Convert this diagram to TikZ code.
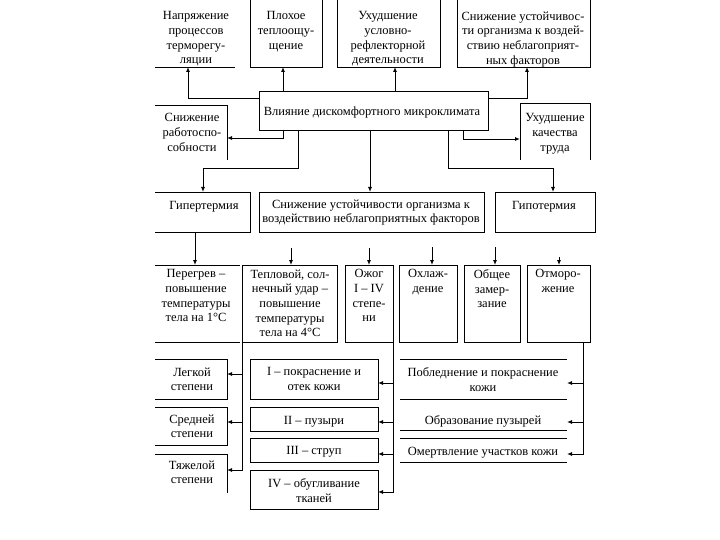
\documentclass[tikz,border=0pt]{standalone}
\usepackage{fontspec}
\setmainfont{Liberation Serif}
\usetikzlibrary{arrows.meta}
\newcommand\mkbox[5]{\node[inner sep=0pt,outer sep=0pt,minimum width={(#4-#2)*1pt},minimum height={(#5-#3)*1pt}] (#1) at ({(#2+#4)/2},{(#3+#5)/2}) {};}
\begin{document}
\begin{tikzpicture}[x=1pt,y=-1pt,
  ln/.style={line width=0.9pt,black},
  arr/.style={ln,-{Latex[length=5pt,width=4pt]}},
  txt/.style={align=center,inner sep=0pt,anchor=north,yshift=-3.5pt,font=\fontsize{12.5}{14.6}\selectfont,execute at begin node=\strut}]
\useasboundingbox[fill=white] (0,0) rectangle (720,540);
% ---- boxes (geometry) ----
\mkbox{A}{155}{0}{235}{67}
\mkbox{B}{250}{0}{322}{67}
\mkbox{C}{337}{0}{440}{67}
\mkbox{D}{457}{0}{590}{67}
\mkbox{M}{259}{91}{488}{130}
\mkbox{L}{155}{105}{227}{160}
\mkbox{R}{520}{103}{590}{160}
\mkbox{G1}{155}{192}{250}{232}
\mkbox{G2}{259}{192}{484}{232}
\mkbox{G3}{495}{192}{595}{232}
\mkbox{P1}{155}{265}{240}{342}
\mkbox{P2}{242}{265}{337}{342}
\mkbox{P3}{345}{265}{393}{342}
\mkbox{P4}{399}{265}{457}{342}
\mkbox{P5}{464}{265}{520}{342}
\mkbox{P6}{527}{265}{590}{342}
\mkbox{S1}{155}{359}{227}{399}
\mkbox{S2}{155}{407}{227}{445}
\mkbox{S3}{155}{454}{227}{493}
\mkbox{T1}{250}{359}{378}{399}
\mkbox{T2}{250}{407}{378}{431}
\mkbox{T3}{250}{438}{378}{462}
\mkbox{T4}{250}{470}{378}{509}
\mkbox{K1}{400}{359}{567}{399}
\mkbox{K2}{400}{407}{567}{430}
\mkbox{K3}{400}{438}{567}{462}
% ---- visible borders ----
\draw[ln] (A.south west) -- (A.south east);
\draw[ln] (B.north west) -- (B.south west) -- (B.south east) -- (B.north east);
\draw[ln] (C.north west) -- (C.south west) -- (C.south east) -- (C.north east);
\draw[ln] (D.north west) -- (D.south west) -- (D.south east) -- (D.north east);
\draw[ln] (M.north west) rectangle (M.south east);
\draw[ln] (L.north west) -- (L.north east) -- (L.south east);
\draw[ln] (R.south west) -- (R.north west) -- (R.north east) -- (R.south east);
\draw[ln] (G1.north west) -- (G1.north east) -- (G1.south east) -- (G1.south west);
\draw[ln] (G2.north west) rectangle (G2.south east);
\draw[ln] (G3.north west) rectangle (G3.south east);
\draw[ln] (P1.north west) -- (P1.north east);
\draw[ln] (P1.south west) -- (P1.south east);
\foreach \n in {P2,P3,P4,P5,P6,T1,T2,T3,T4} \draw[ln] (\n.north west) rectangle (\n.south east);
\draw[ln] (S1.north west) -- (S1.north east) -- (S1.south east) -- (S1.south west);
\draw[ln] (S2.north west) -- (S2.north east) -- (S2.south east) -- (S2.south west);
\draw[ln] (S3.north west) -- (S3.north east) -- (S3.south east);
\draw[ln] (K1.north west) -- (K1.north east);
\draw[ln] (K1.south west) -- (K1.south east);
\draw[ln] (K2.south west) -- (K2.south east);
\draw[ln] (K3.north west) -- (K3.north east);
\draw[ln] (K3.south west) -- (K3.south east);
% ---- texts ----
\node[txt] (tA) at (196,8) {Напряжение\\процессов\\терморегу-\\ляции};
\node[txt] (tB) at (286,8) {Плохое\\теплоощу-\\щение};
\node[txt] (tC) at (388,8) {Ухудшение\\условно-\\рефлекторной\\деятельности};
\node[txt] (tD) at (523,8) {Снижение устойчивос-\\ти организма к воздей-\\ствию неблагоприят-\\ных факторов};
\node[txt] (tM) at (372,102) {Влияние дискомфортного микроклимата};
\node[txt] (tL) at (192,110) {Снижение\\работоспо-\\собности};
\node[txt] (tR) at (555,110) {Ухудшение\\качества\\труда};
\node[txt] (tG1) at (204,196) {Гипертермия};
\node[txt] (tG2) at (371,196) {Снижение устойчивости организма к\\воздействию неблагоприятных факторов};
\node[txt] (tG3) at (544,196) {Гипотермия};
\node[txt] (tP1) at (196,266) {Перегрев –\\повышение\\температуры\\тела на 1°С};
\node[txt] (tP2) at (290,266) {Тепловой, сол-\\нечный удар –\\повышение\\температуры\\тела на 4°С};
\node[txt] (tP3) at (369,266) {Ожог\\I – IV\\степе-\\ни};
\node[txt] (tP4) at (428,266) {Охлаж-\\дение};
\node[txt] (tP5) at (492,266) {Общее\\замер-\\зание};
\node[txt] (tP6) at (558,266) {Отморо-\\жение};
\node[txt] (tS1) at (192,364) {Легкой\\степени};
\node[txt] (tS2) at (192,411) {Средней\\степени};
\node[txt] (tS3) at (192,457) {Тяжелой\\степени};
\node[txt] (tT1) at (314,364) {I – покраснение и\\отек кожи};
\node[txt] (tT2) at (314,411) {II – пузыри};
\node[txt] (tT3) at (314,441) {III – струп};
\node[txt] (tT4) at (314,475) {IV – обугливание\\тканей};
\node[txt] (tK1) at (483,364) {Побледнение и покраснение\\кожи};
\node[txt] (tK2) at (483,411) {Образование пузырей};
\node[txt] (tK3) at (483,442) {Омертвление участков кожи};
% ---- connectors ----
\draw[arr] (M.west |- 0,98) -| (188,0 |- A.south);
\draw[arr] (283,0 |- M.north) -- (283,0 |- B.south);
\draw[arr] (395,0 |- M.north) -- (395,0 |- C.south);
\draw[arr] (M.east |- 0,98) -| (527,0 |- D.south);
\draw[arr] (283,0 |- M.south) |- (L.east |- 0,138);
\draw[arr] (463,0 |- M.south) |- (R.west |- 0,139);
\draw[arr] (298,0 |- M.south) -- (298,168) -| (203,0 |- G1.north);
\draw[arr] (370,0 |- M.south) -- (370,0 |- G2.north);
\draw[arr] (448,0 |- M.south) -- (448,168) -| (553,0 |- G3.north);
\draw[arr] (195,0 |- G1.south) -- (195,0 |- P1.north);
\coordinate (s2) at (291,248);
\coordinate (s3) at (369,248);
\coordinate (s4) at (432,247);
\coordinate (s5) at (495,247);
\coordinate (s6) at (559,257);
\foreach \s/\p in {s2/P2,s3/P3,s4/P4,s5/P5,s6/P6} \draw[arr] (\s) -- (\s |- \p.north);
\draw[arr] (P2.south west) |- (S3.east |- 0,470);
\draw[arr] (P2.west |- 0,374) -- (S1.east |- 0,374);
\draw[arr] (P2.west |- 0,422) -- (S2.east |- 0,422);
\draw[arr] (P3.south east) |- (T4.east |- 0,492);
\draw[arr] (P3.east |- 0,383) -- (T1.east |- 0,383);
\draw[arr] (P3.east |- 0,422) -- (T2.east |- 0,422);
\draw[arr] (P3.east |- 0,454) -- (T3.east |- 0,454);
\draw[arr] (583,0 |- P6.south) |- (K3.east |- 0,454);
\draw[arr] (583,383) -- (K1.east |- 0,383);
\draw[arr] (583,422) -- (K2.east |- 0,422);
\end{tikzpicture}
\end{document}
